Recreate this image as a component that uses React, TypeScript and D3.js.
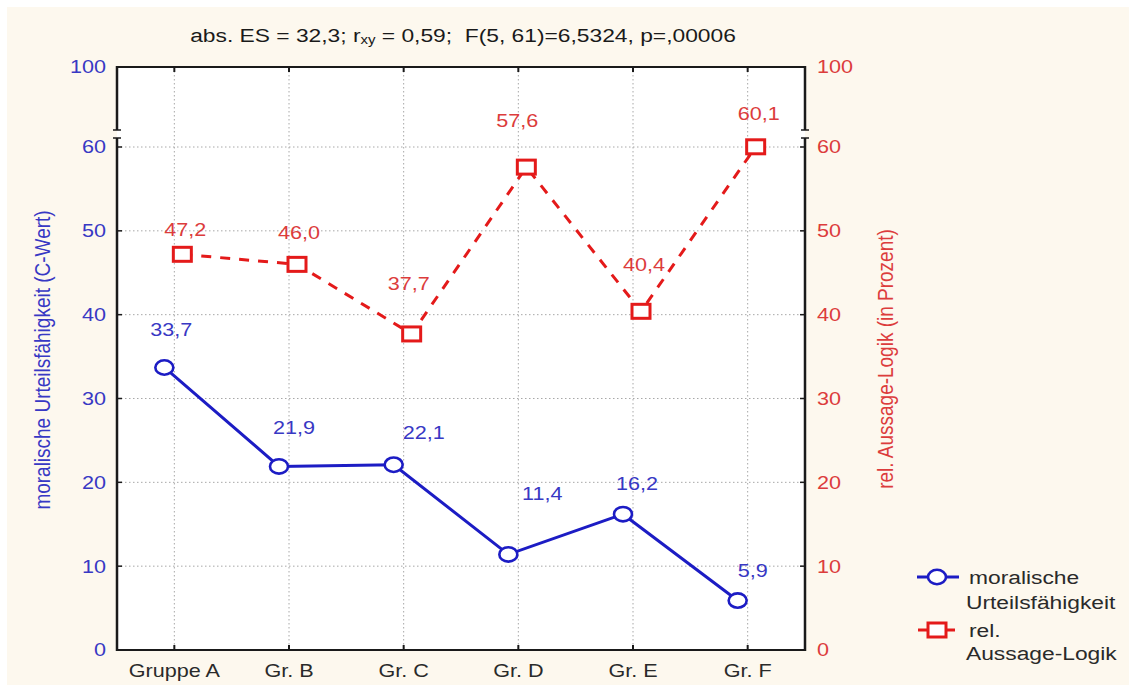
import React from "react";
import * as d3 from "d3";

const categories = ["Gruppe A", "Gr. B", "Gr. C", "Gr. D", "Gr. E", "Gr. F"];
const moralValues = [33.7, 21.9, 22.1, 11.4, 16.2, 5.9];
const logikValues = [47.2, 46.0, 37.7, 57.6, 40.4, 60.1];
const yTickValues = [0, 10, 20, 30, 40, 50, 60, 100];
const gridValues = [10, 20, 30, 40, 50, 60];
const legendLabels = [["moralische", "Urteilsfähigkeit"], ["rel.", "Aussage-Logik"]];

// layout-only nudges for the value labels (dx, dy relative to the marker)
const moralLabelNudge = [[7, -38], [15, -39], [30, -32], [34, -61], [14, -31], [15, -30]];
const logikLabelNudge = [[3, -25], [2, -32], [-3, -50], [-9, -46], [3, -47], [3, -33]];

const W = 1129, H = 693;
const L = 117, R = 805, T = 67, B = 650;
const SX = 1.2;
const FONT = "'Liberation Sans', Arial, sans-serif";
const BLUE = "#1c1cc4";
const BLUE_TXT = "#3838c4";
const RED = "#e41a1a";
const RED_TXT = "#dc3c3c";
const BREAK_TOP = 130, BREAK_BOT = 138;

const fmt = (v: number) => d3.format(".1f")(v).replace(".", ",");

function SText({ x, y, anchor = "middle", size = 19, fill = "#222", children, rotate = 0 }: any) {
  return (
    <text
      transform={`translate(${x},${y}) scale(${SX},1)${rotate ? ` rotate(${rotate})` : ""}`}
      textAnchor={anchor}
      dominantBaseline="central"
      fontSize={size}
      fontFamily={FONT}
      fill={fill}
      style={{ whiteSpace: "pre" }}
    >
      {children}
    </text>
  );
}

export default function App() {
  const x = d3.scalePoint<string>().domain(categories).range([L, R]).padding(0.5);
  const y = d3.scaleLinear().domain([0, 60, 100]).range([B, 147, T]);
  const offC = -10, offS = 8;

  const moralPts = moralValues.map((v, i) => [x(categories[i])! + offC, y(v)] as [number, number]);
  const logikPts = logikValues.map((v, i) => [x(categories[i])! + offS, y(v)] as [number, number]);
  const line = d3.line();

  return (
    <div style={{ position: "absolute", left: 0, top: 0 }}>
      <svg width={W} height={H} style={{ display: "block" }}>
        <rect x={0} y={0} width={W} height={H} fill="#ffffff" />
        <rect x={7} y={7} width={W - 7} height={678} fill="#fdf8ee" />
        <rect x={L} y={T} width={R - L} height={B - T} fill="#ffffff" />

        {/* grid */}
        {gridValues.map((v) => (
          <line key={"g" + v} x1={L} x2={R} y1={y(v)} y2={y(v)} stroke="#a8a8a8" strokeWidth={1} strokeDasharray="1.5,2.5" />
        ))}
        {categories.map((c) => (
          <line key={"v" + c} x1={x(c)} x2={x(c)} y1={T} y2={B} stroke="#a8a8a8" strokeWidth={1} strokeDasharray="1.5,2.5" />
        ))}

        {/* frame */}
        <line x1={L} x2={R} y1={T} y2={T} stroke="#1a1a1a" strokeWidth={2} />
        <line x1={L} x2={R} y1={B} y2={B} stroke="#1a1a1a" strokeWidth={2} />
        {[L, R].map((ax) => (
          <g key={"ax" + ax}>
            <line x1={ax} x2={ax} y1={T - 1} y2={BREAK_TOP} stroke="#1a1a1a" strokeWidth={2.5} />
            <line x1={ax} x2={ax} y1={BREAK_BOT} y2={B + 1} stroke="#1a1a1a" strokeWidth={2.5} />
            <line x1={ax - 4} x2={ax + 4} y1={BREAK_TOP} y2={BREAK_TOP} stroke="#1a1a1a" strokeWidth={1.5} />
            <line x1={ax - 4} x2={ax + 4} y1={BREAK_BOT} y2={BREAK_BOT} stroke="#1a1a1a" strokeWidth={1.5} />
          </g>
        ))}
        {/* ticks */}
        {categories.map((c) => (
          <g key={"t" + c}>
            <line x1={x(c)} x2={x(c)} y1={T} y2={T + 5} stroke="#1a1a1a" strokeWidth={2} />
            <line x1={x(c)} x2={x(c)} y1={B} y2={B - 5} stroke="#1a1a1a" strokeWidth={2} />
          </g>
        ))}
        {gridValues.map((v) => (
          <g key={"yt" + v}>
            <line x1={L} x2={L + 5} y1={y(v)} y2={y(v)} stroke="#1a1a1a" strokeWidth={1.5} />
            <line x1={R} x2={R - 5} y1={y(v)} y2={y(v)} stroke="#1a1a1a" strokeWidth={1.5} />
          </g>
        ))}

        {/* tick labels */}
        {yTickValues.map((v) => (
          <g key={"yl" + v}>
            <SText x={106} y={y(v)} anchor="end" size={18} fill={BLUE_TXT}>{String(v)}</SText>
            <SText x={817} y={y(v)} anchor="start" size={18} fill={RED_TXT}>{String(v)}</SText>
          </g>
        ))}
        {categories.map((c) => (
          <SText key={"xl" + c} x={x(c)} y={671} size={18} fill="#2a2a2a">{c}</SText>
        ))}

        {/* title */}
        <text
          transform={`translate(463,35) scale(${SX},1)`}
          textAnchor="middle"
          dominantBaseline="central"
          fontSize={19}
          fontFamily={FONT}
          fill="#1a1a1a"
          style={{ whiteSpace: "pre" }}
        >
          <tspan>abs. ES = 32,3; r</tspan>
          <tspan fontSize={12.5} dy={4}>xy</tspan>
          <tspan dy={-4}>{" = 0,59;  F(5, 61)=6,5324, p=,00006"}</tspan>
        </text>

        {/* axis titles */}
        <SText x={42} y={360} size={19} fill={BLUE_TXT} rotate={-90}>moralische Urteilsfähigkeit (C-Wert)</SText>
        <SText x={885} y={359} size={19} fill={RED_TXT} rotate={-90}>rel. Aussage-Logik (in Prozent)</SText>

        {/* series lines */}
        <path d={line(logikPts)!} fill="none" stroke={RED} strokeWidth={3} strokeDasharray="10,9" />
        <path d={line(moralPts)!} fill="none" stroke={BLUE} strokeWidth={3} />

        {/* markers */}
        {logikPts.map(([px, py], i) => (
          <rect key={"s" + i} x={px - 9} y={py - 7} width={18} height={14} fill="#fff" stroke={RED} strokeWidth={3} />
        ))}
        {moralPts.map(([px, py], i) => (
          <ellipse key={"c" + i} cx={px} cy={py} rx={9} ry={7.2} fill="#fff" stroke={BLUE} strokeWidth={2.6} />
        ))}

        {/* value labels */}
        {moralPts.map(([px, py], i) => (
          <SText key={"ml" + i} x={px + moralLabelNudge[i][0]} y={py + moralLabelNudge[i][1]} size={18} fill={BLUE_TXT}>{fmt(moralValues[i])}</SText>
        ))}
        {logikPts.map(([px, py], i) => (
          <SText key={"ll" + i} x={px + logikLabelNudge[i][0]} y={py + logikLabelNudge[i][1]} size={18} fill={RED_TXT}>{fmt(logikValues[i])}</SText>
        ))}

        {/* legend */}
        <line x1={917} x2={959} y1={577} y2={577} stroke={BLUE} strokeWidth={3} />
        <ellipse cx={937} cy={577} rx={9} ry={7.2} fill="#fff" stroke={BLUE} strokeWidth={2.6} />
        <SText x={969} y={577} anchor="start" size={19} fill="#2a2a2a">{legendLabels[0][0]}</SText>
        <SText x={966} y={602} anchor="start" size={19} fill="#2a2a2a">{legendLabels[0][1]}</SText>
        <line x1={918} x2={955} y1={630} y2={630} stroke={RED} strokeWidth={3} />
        <rect x={937 - 9} y={630 - 7} width={18} height={14} fill="#fff" stroke={RED} strokeWidth={3} />
        <SText x={969} y={630} anchor="start" size={19} fill="#2a2a2a">{legendLabels[1][0]}</SText>
        <SText x={966} y={653} anchor="start" size={19} fill="#2a2a2a">{legendLabels[1][1]}</SText>
      </svg>
    </div>
  );
}
